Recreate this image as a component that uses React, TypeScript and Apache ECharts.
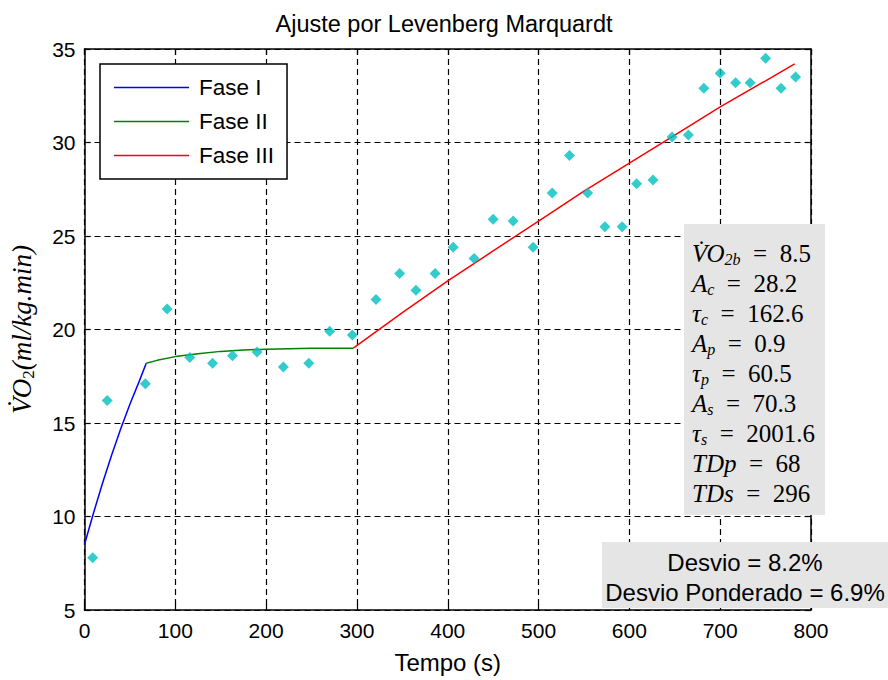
import React, { useEffect, useRef } from 'react';
import * as echarts from 'echarts';

// Observed VO2 samples (time in s, VO2 in ml/kg.min)
const obsTime = [9, 25, 67, 91, 116, 141, 163, 190, 219, 247, 270, 295, 321, 347, 365, 386, 406, 429, 450, 472, 494, 515, 534, 554, 573, 592, 608, 626, 647, 665, 682, 700, 717, 733, 750, 767, 783];
const obsVO2 = [7.8, 16.2, 17.1, 21.1, 18.5, 18.2, 18.6, 18.8, 18.0, 18.2, 19.9, 19.7, 21.6, 23.0, 22.1, 23.0, 24.4, 23.8, 25.9, 25.8, 24.4, 27.3, 29.3, 27.3, 25.5, 25.5, 27.8, 28.0, 30.3, 30.4, 32.9, 33.7, 33.2, 33.2, 34.5, 32.9, 33.5];

// Fitted phases
const fase1Time = [0, 10, 20, 30, 40, 50, 60, 68];
const fase1VO2 = [8.5, 10.2, 11.8, 13.3, 14.7, 16.0, 17.2, 18.2];
const fase2Time = [68, 80, 100, 125, 150, 175, 200, 250, 296];
const fase2VO2 = [18.2, 18.35, 18.55, 18.7, 18.83, 18.9, 18.95, 19.0, 19.0];
const fase3Time = [296, 350, 400, 450, 500, 550, 600, 650, 700, 750, 782];
const fase3VO2 = [19.0, 20.9, 22.6, 24.2, 25.8, 27.4, 28.9, 30.4, 31.9, 33.3, 34.2];

const seriesNames = ['Fase I', 'Fase II', 'Fase III'];
const seriesColors = ['#0000FF', '#008000', '#FF0000'];

// Parameter box lines: [symbol, subscript, value]
const paramSymbols = ['V̇O', 'A', 'τ', 'A', 'τ', 'A', 'τ', 'TDp', 'TDs'];
const paramSubs = ['2b', 'c', 'c', 'p', 'p', 's', 's', '', ''];
const paramValues = ['8.5', '28.2', '162.6', '0.9', '60.5', '70.3', '2001.6', '68', '296'];

const desvioLines = ['Desvio = 8.2%', 'Desvio Ponderado = 6.9%'];

const titleText = 'Ajuste por Levenberg Marquardt';
const xName = 'Tempo (s)';

const SANS = '"Liberation Sans", Arial, sans-serif';
const SERIF = '"Liberation Serif", "DejaVu Serif", serif';

const zip = (a: number[], b: number[]) => a.map((v, i) => [v, b[i]]);

export default function App() {
  const ref = useRef<HTMLDivElement>(null);
  useEffect(() => {
    document.body.style.margin = '0';
    if (!ref.current) return;
    const chart = echarts.init(ref.current, null, { renderer: 'svg' });

    const richParam = {
      it: { fontFamily: SERIF, fontStyle: 'italic', fontSize: 25, color: '#000', lineHeight: 28 },
      sub: { fontFamily: SERIF, fontStyle: 'italic', fontSize: 16, color: '#000', lineHeight: 16, verticalAlign: 'bottom' },
      n: { fontFamily: SERIF, fontSize: 25, color: '#000', lineHeight: 28 },
    };

    const paramTexts = paramSymbols.map((s, i) => ({
      type: 'text',
      x: 692,
      y: 253 + i * 30,
      z: 101,
      style: {
        text: `{it|${s}}` + (paramSubs[i] ? `{sub|${paramSubs[i]}}` : '') + `{n|\u2002=\u2002${paramValues[i]}}`,
        rich: richParam,
        verticalAlign: 'middle',
        align: 'left',
      },
    }));

    const axisCommon = {
      type: 'value',
      axisLine: { show: true, onZero: false, lineStyle: { color: '#000', width: 1.5 } },
      axisTick: { show: true, inside: true, length: 6, lineStyle: { color: '#000', width: 1.2 } },
    };

    chart.setOption({
      animation: false,
      backgroundColor: '#fff',
      title: {
        text: titleText,
        left: 'center',
        top: 7,
        textStyle: { fontFamily: SANS, fontSize: 23.5, fontWeight: 'normal', color: '#000' },
      },
      grid: { left: 84.5, right: 77, top: 49, bottom: 70, show: false },
      legend: {
        data: seriesNames,
        orient: 'vertical',
        left: 100,
        top: 64,
        padding: [12, 13, 12, 14],
        icon: 'rect',
        itemWidth: 75,
        itemHeight: 1.5,
        itemGap: 11,
        backgroundColor: '#fff',
        borderColor: '#000',
        borderWidth: 1.5,
        borderRadius: 0,
        textStyle: { fontFamily: SANS, fontSize: 22.5, color: '#000', lineHeight: 22, padding: [0, 0, 0, 5] },
      },
      xAxis: [
        {
          ...axisCommon,
          min: 0,
          max: 800,
          interval: 100,
          axisLabel: { color: '#000', fontFamily: SANS, fontSize: 21, margin: 10 },
          splitLine: { show: true, lineStyle: { color: '#000', type: [6, 4], width: 1.2 } },
          name: xName,
          nameLocation: 'middle',
          nameGap: 40,
          nameTextStyle: { fontFamily: SANS, fontSize: 24, color: '#000' },
        },
        {
          ...axisCommon,
          position: 'top',
          min: 0,
          max: 800,
          interval: 100,
          axisLabel: { show: false },
          splitLine: { show: false },
        },
      ],
      yAxis: [
        {
          ...axisCommon,
          min: 5,
          max: 35,
          interval: 5,
          axisLabel: { color: '#000', fontFamily: SANS, fontSize: 21, margin: 9 },
          splitLine: { show: true, lineStyle: { color: '#000', type: [6, 4], width: 1.2 } },
          name: '{a|V̇O}{b|2}{a|(ml/kg.min)}',
          nameLocation: 'middle',
          nameGap: 48,
          nameRotate: 90,
          nameTextStyle: {
            rich: {
              a: { fontFamily: SERIF, fontStyle: 'italic', fontSize: 27, color: '#000', lineHeight: 30 },
              b: { fontFamily: SERIF, fontSize: 17, color: '#000', lineHeight: 17, verticalAlign: 'bottom' },
            },
          },
        },
        {
          ...axisCommon,
          position: 'right',
          min: 5,
          max: 35,
          interval: 5,
          axisLabel: { show: false },
          splitLine: { show: false },
        },
      ],
      series: [
        {
          name: 'Observado',
          type: 'scatter',
          data: zip(obsTime, obsVO2),
          symbol: 'diamond',
          symbolSize: [11, 11],
          itemStyle: { color: '#00BFBF' },
          z: 4,
        },
        ...[zip(fase1Time, fase1VO2), zip(fase2Time, fase2VO2), zip(fase3Time, fase3VO2)].map((d, i) => ({
          name: seriesNames[i],
          type: 'line',
          data: d,
          symbol: 'none',
          smooth: false,
          lineStyle: { color: seriesColors[i], width: 1.5 },
          itemStyle: { color: seriesColors[i] },
          z: 3,
        })),
      ],
      graphic: [
        {
          type: 'rect',
          z: 100,
          shape: { x: 684, y: 224, width: 141, height: 291 },
          style: { fill: '#e5e5e5' },
        },
        ...paramTexts,
        {
          type: 'rect',
          z: 100,
          shape: { x: 602, y: 542, width: 300, height: 66 },
          style: { fill: '#e5e5e5' },
        },
        ...desvioLines.map((t, i) => ({
          type: 'text',
          z: 101,
          x: 745,
          y: 562 + i * 30,
          style: {
            text: t,
            font: `24px ${SANS}`,
            fill: '#000',
            align: 'center',
            verticalAlign: 'middle',
          },
        })),
      ],
    });
    return () => chart.dispose();
  }, []);
  return <div ref={ref} style={{ width: 888, height: 680 }} />;
}
